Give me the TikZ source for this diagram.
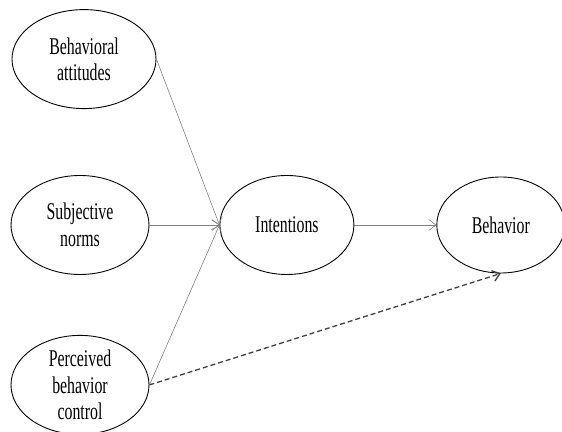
\documentclass[tikz,border=0pt]{standalone}
\usepackage{fontspec}
\setmainfont[FakeStretch=0.66]{Liberation Serif}
\usepackage{xcolor}
\usetikzlibrary{shapes.geometric, arrows.meta, positioning}

\begin{document}
\begin{tikzpicture}[
    x=1pt, y=1pt,
    oval/.style={ellipse, draw, line width=0.9pt, inner sep=0pt,
                 minimum width=138pt, minimum height=99pt, align=center,
                 font=\fontsize{24}{26.5}\selectfont},
    arr/.style={-{Straight Barb[length=7pt,width=11pt]}, draw=black!50, line width=0.6pt},
    dasharr/.style={-{Straight Barb[length=7pt,width=11pt]}, draw=black!75,
                    line width=1.3pt, dash pattern=on 5pt off 3pt}
]
    \useasboundingbox (0,0) rectangle (562,431);

    \node[oval] (norms) at (80,206) {Subjective\\norms};
    \node[oval, minimum width=144pt, above=66pt of norms, xshift=4pt] (att) {Behavioral\\attitudes};
    \node[oval, below=60pt of norms] (pbc) {Perceived\\behavior\\control};
    \node[oval, minimum width=134pt, right=70pt of norms] (int) {Intentions};
    \node[oval, minimum width=128pt, minimum height=96pt, right=82pt of int] (beh) {Behavior};

    \draw[arr] (att.east) -- (int.west);
    \draw[arr] (norms) -- (int.west);
    \draw[arr] (pbc.east) -- (int.west);
    \draw[arr] (int) -- (beh);
    \draw[dasharr] (pbc.east) -- (beh.south);
\end{tikzpicture}
\end{document}
